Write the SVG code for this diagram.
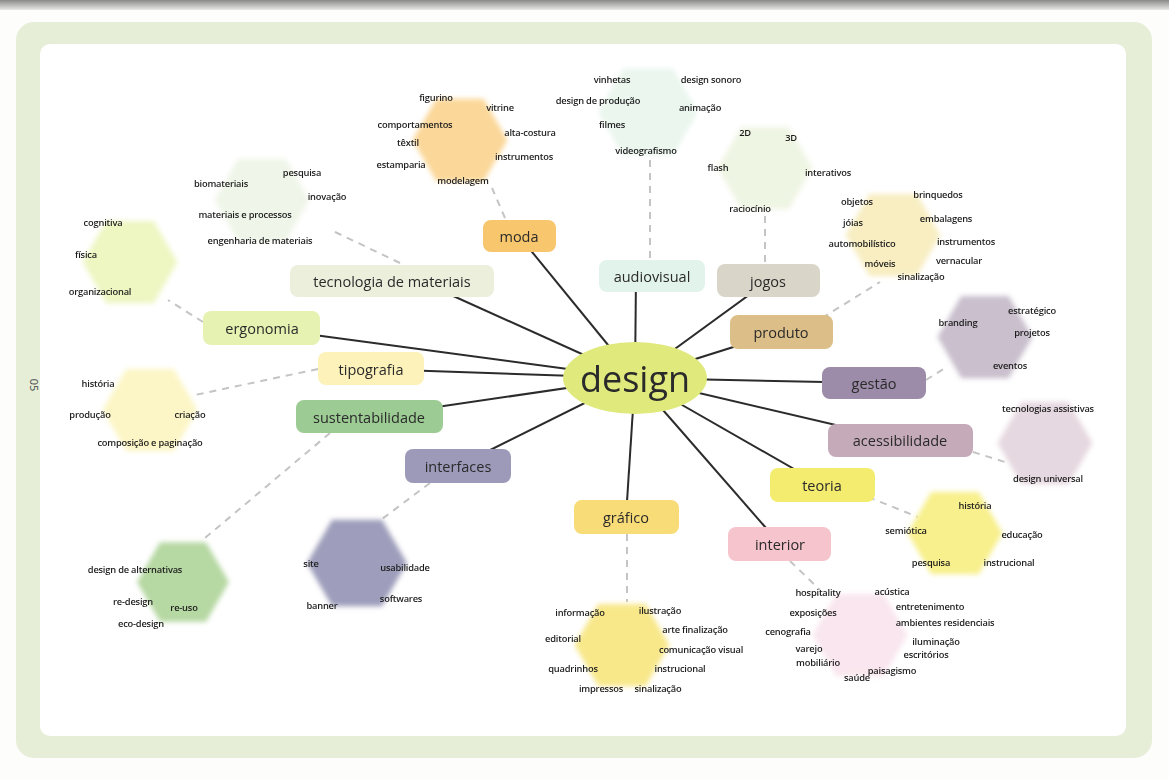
<svg xmlns="http://www.w3.org/2000/svg" width="1169" height="780" viewBox="0 0 1169 780">
<defs>
<linearGradient id="topband" x1="0" y1="0" x2="0" y2="1">
<stop offset="0" stop-color="#8a8a88"/><stop offset="1" stop-color="#e8e8e6"/>
</linearGradient>
<filter id="soft" x="-20%" y="-20%" width="140%" height="140%"><feGaussianBlur stdDeviation="2.5"/></filter>
<polygon id="hex" points="50,0 25,43.3 -25,43.3 -50,0 -25,-43.3 25,-43.3"/>
</defs>
<style>
.lbl{font-family:"Open Sans","Liberation Sans",sans-serif;font-size:14.5px;fill:#2a2a2a;text-anchor:middle;dominant-baseline:central}
.sm{font-family:"Open Sans","Liberation Sans",sans-serif;font-size:9.3px;font-weight:600;letter-spacing:-0.2px;fill:#1c1c1c;text-anchor:middle;dominant-baseline:central}
.spoke{stroke:#2b2b2b;stroke-width:2;fill:none}
.dash{stroke:#c4c4c4;stroke-width:2;stroke-dasharray:7 6;fill:none}
.box{stroke:none}
</style>
<rect width="1169" height="780" fill="#fdfdfb"/>
<rect width="1169" height="10" fill="url(#topband)"/>
<rect x="16" y="22" width="1136" height="736" rx="18" fill="#e6eed8"/>
<rect x="40" y="44" width="1086" height="692" rx="10" fill="#ffffff"/>
<text x="34" y="385" transform="rotate(90 34 385)" font-family="Open Sans, Liberation Sans, sans-serif" font-size="11" fill="#444" text-anchor="middle" dominant-baseline="central">05</text>

<g id="connectors">
<line class="spoke" x1="635" y1="378" x2="519" y2="236"/>
<line class="spoke" x1="635" y1="378" x2="636" y2="276"/>
<line class="spoke" x1="635" y1="378" x2="768" y2="281"/>
<line class="spoke" x1="635" y1="378" x2="781" y2="332"/>
<line class="spoke" x1="635" y1="378" x2="874" y2="383"/>
<line class="spoke" x1="635" y1="378" x2="900" y2="440"/>
<line class="spoke" x1="635" y1="378" x2="822" y2="485"/>
<line class="spoke" x1="635" y1="378" x2="780" y2="544"/>
<line class="spoke" x1="635" y1="378" x2="626" y2="517"/>
<line class="spoke" x1="635" y1="378" x2="458" y2="466"/>
<line class="spoke" x1="635" y1="378" x2="369" y2="417"/>
<line class="spoke" x1="635" y1="378" x2="371" y2="369"/>
<line class="spoke" x1="635" y1="378" x2="262" y2="328"/>
<line class="spoke" x1="635" y1="378" x2="420" y2="281"/>
<path class="dash" d="M505 218 L492 188"/>
<path class="dash" d="M650 258 L650 160"/>
<path class="dash" d="M765 262 L765 215"/>
<path class="dash" d="M822 318 L880 282"/>
<path class="dash" d="M335 232 L400 263"/>
<path class="dash" d="M203 322 L168 300"/>
<path class="dash" d="M318 369 L195 395"/>
<path class="dash" d="M926 380 L945 368"/>
<path class="dash" d="M973 452 L1005 462"/>
<path class="dash" d="M868 497 L918 517"/>
<path class="dash" d="M627 534 L627 602"/>
<path class="dash" d="M790 561 L820 590"/>
<path class="dash" d="M330 433 L205 538"/>
<path class="dash" d="M430 483 L378 522"/>
</g>

<g id="hexagons" filter="url(#soft)">
<use href="#hex" transform="translate(460 140) scale(0.95)" fill="#fbd89a"/>
<use href="#hex" transform="translate(648 112) scale(1.0)" fill="#eaf6ee"/>
<use href="#hex" transform="translate(765 168) scale(0.95)" fill="#eff5e3"/>
<use href="#hex" transform="translate(893 235) scale(0.95)" fill="#f8eec2"/>
<use href="#hex" transform="translate(262 200) scale(0.95)" fill="#eff5e8"/>
<use href="#hex" transform="translate(130 262) scale(0.95)" fill="#eef6c2"/>
<use href="#hex" transform="translate(150 410) scale(0.95)" fill="#fcf6c6"/>
<use href="#hex" transform="translate(985 337) scale(0.95)" fill="#c9bfcd"/>
<use href="#hex" transform="translate(1045 443) scale(0.95)" fill="#e6d8e0"/>
<use href="#hex" transform="translate(955 533) scale(0.95)" fill="#f8f08c"/>
<use href="#hex" transform="translate(860 635) scale(0.95)" fill="#f9e6ee"/>
<use href="#hex" transform="translate(622 645) scale(0.95)" fill="#f8e88a"/>
<use href="#hex" transform="translate(183 582) scale(0.92)" fill="#b6d8a2"/>
<use href="#hex" transform="translate(357 563) scale(1.0)" fill="#9e9ebc"/>
</g>

<g id="center">
<ellipse cx="635" cy="378" rx="72" ry="36" fill="#dfe97c"/>
<text x="635" y="378" font-family="Open Sans, Liberation Sans, sans-serif" font-size="36" fill="#2a2a2a" text-anchor="middle" dominant-baseline="central">design</text>
</g>

<g id="moda">
<rect class="box" x="483" y="220" width="73" height="32" rx="8" fill="#f8c66c"/>
<text class="lbl" x="519" y="236">moda</text>
<text class="sm" x="436" y="97">figurino</text>
<text class="sm" x="500" y="107">vitrine</text>
<text class="sm" x="415" y="124">comportamentos</text>
<text class="sm" x="530" y="132">alta-costura</text>
<text class="sm" x="408" y="142">têxtil</text>
<text class="sm" x="524" y="156">instrumentos</text>
<text class="sm" x="401" y="164">estamparia</text>
<text class="sm" x="463" y="180">modelagem</text>
</g>

<g id="audiovisual">
<rect class="box" x="599" y="260" width="106" height="32" rx="8" fill="#e2f3eb"/>
<text class="lbl" x="652" y="276">audiovisual</text>
<text class="sm" x="612" y="79">vinhetas</text>
<text class="sm" x="711" y="79">design sonoro</text>
<text class="sm" x="598" y="100">design de produção</text>
<text class="sm" x="700" y="107">animação</text>
<text class="sm" x="612" y="124">filmes</text>
<text class="sm" x="646" y="150">videografismo</text>
</g>

<g id="jogos">
<rect class="box" x="717" y="264" width="103" height="33" rx="8" fill="#d9d5c9"/>
<text class="lbl" x="768" y="281">jogos</text>
<text class="sm" x="745" y="132">2D</text>
<text class="sm" x="791" y="137">3D</text>
<text class="sm" x="718" y="167">flash</text>
<text class="sm" x="828" y="172">interativos</text>
<text class="sm" x="750" y="208">raciocínio</text>
</g>

<g id="produto">
<rect class="box" x="730" y="315" width="103" height="34" rx="8" fill="#dcbe88"/>
<text class="lbl" x="781" y="332">produto</text>
<text class="sm" x="857" y="201">objetos</text>
<text class="sm" x="938" y="194">brinquedos</text>
<text class="sm" x="853" y="222">jóias</text>
<text class="sm" x="946" y="218">embalagens</text>
<text class="sm" x="862" y="243">automobilístico</text>
<text class="sm" x="966" y="241">instrumentos</text>
<text class="sm" x="880" y="263">móveis</text>
<text class="sm" x="959" y="260">vernacular</text>
<text class="sm" x="921" y="276">sinalização</text>
</g>

<g id="tecnologia">
<rect class="box" x="290" y="265" width="204" height="32" rx="8" fill="#ecefdc"/>
<text class="lbl" x="392" y="281">tecnologia de materiais</text>
<text class="sm" x="221" y="183">biomateriais</text>
<text class="sm" x="302" y="172">pesquisa</text>
<text class="sm" x="327" y="196">inovação</text>
<text class="sm" x="245" y="214">materiais e processos</text>
<text class="sm" x="260" y="240">engenharia de materiais</text>
</g>

<g id="ergonomia">
<rect class="box" x="203" y="311" width="117" height="34" rx="8" fill="#e5f2b2"/>
<text class="lbl" x="262" y="328">ergonomia</text>
<text class="sm" x="103" y="222">cognitiva</text>
<text class="sm" x="86" y="254">física</text>
<text class="sm" x="100" y="291">organizacional</text>
</g>

<g id="tipografia">
<rect class="box" x="318" y="352" width="106" height="33" rx="8" fill="#fcf2ba"/>
<text class="lbl" x="371" y="369">tipografia</text>
<text class="sm" x="98" y="383">história</text>
<text class="sm" x="90" y="414">produção</text>
<text class="sm" x="190" y="414">criação</text>
<text class="sm" x="150" y="442">composição e paginação</text>
</g>

<g id="sustentabilidade">
<rect class="box" x="296" y="400" width="147" height="33" rx="8" fill="#9ccb94"/>
<text class="lbl" x="369" y="417">sustentabilidade</text>
<text class="sm" x="135" y="569">design de alternativas</text>
<text class="sm" x="133" y="601">re-design</text>
<text class="sm" x="184" y="607">re-uso</text>
<text class="sm" x="141" y="623">eco-design</text>
</g>

<g id="interfaces">
<rect class="box" x="405" y="449" width="106" height="34" rx="8" fill="#9d99b9"/>
<text class="lbl" x="458" y="466">interfaces</text>
<text class="sm" x="311" y="563">site</text>
<text class="sm" x="405" y="567">usabilidade</text>
<text class="sm" x="322" y="605">banner</text>
<text class="sm" x="401" y="598">softwares</text>
</g>

<g id="grafico">
<rect class="box" x="574" y="500" width="105" height="34" rx="8" fill="#f8dc78"/>
<text class="lbl" x="626" y="517">gráfico</text>
<text class="sm" x="580" y="612">informação</text>
<text class="sm" x="660" y="610">ilustração</text>
<text class="sm" x="563" y="638">editorial</text>
<text class="sm" x="695" y="629">arte finalização</text>
<text class="sm" x="701" y="649">comunicação visual</text>
<text class="sm" x="573" y="668">quadrinhos</text>
<text class="sm" x="680" y="668">instrucional</text>
<text class="sm" x="601" y="688">impressos</text>
<text class="sm" x="658" y="688">sinalização</text>
</g>

<g id="interior">
<rect class="box" x="728" y="527" width="103" height="34" rx="8" fill="#f5c4cc"/>
<text class="lbl" x="780" y="544">interior</text>
<text class="sm" x="818" y="592">hospitality</text>
<text class="sm" x="892" y="591">acústica</text>
<text class="sm" x="813" y="612">exposições</text>
<text class="sm" x="930" y="606">entretenimento</text>
<text class="sm" x="945" y="622">ambientes residenciais</text>
<text class="sm" x="788" y="631">cenografia</text>
<text class="sm" x="936" y="641">iluminação</text>
<text class="sm" x="809" y="648">varejo</text>
<text class="sm" x="926" y="654">escritórios</text>
<text class="sm" x="818" y="662">mobiliário</text>
<text class="sm" x="857" y="677">saúde</text>
<text class="sm" x="892" y="670">paisagismo</text>
</g>

<g id="teoria">
<rect class="box" x="770" y="468" width="105" height="34" rx="8" fill="#f4ec6e"/>
<text class="lbl" x="822" y="485">teoria</text>
<text class="sm" x="975" y="505">história</text>
<text class="sm" x="906" y="530">semiótica</text>
<text class="sm" x="1022" y="534">educação</text>
<text class="sm" x="931" y="562">pesquisa</text>
<text class="sm" x="1009" y="562">instrucional</text>
</g>

<g id="acessibilidade">
<rect class="box" x="828" y="424" width="145" height="33" rx="8" fill="#c5aab9"/>
<text class="lbl" x="900" y="440">acessibilidade</text>
<text class="sm" x="1048" y="408">tecnologias assistivas</text>
<text class="sm" x="1048" y="478">design universal</text>
</g>

<g id="gestao">
<rect class="box" x="822" y="367" width="104" height="32" rx="8" fill="#9c8ba9"/>
<text class="lbl" x="874" y="383">gestão</text>
<text class="sm" x="958" y="322">branding</text>
<text class="sm" x="1032" y="310">estratégico</text>
<text class="sm" x="1032" y="332">projetos</text>
<text class="sm" x="1010" y="365">eventos</text>
</g>
</svg>
